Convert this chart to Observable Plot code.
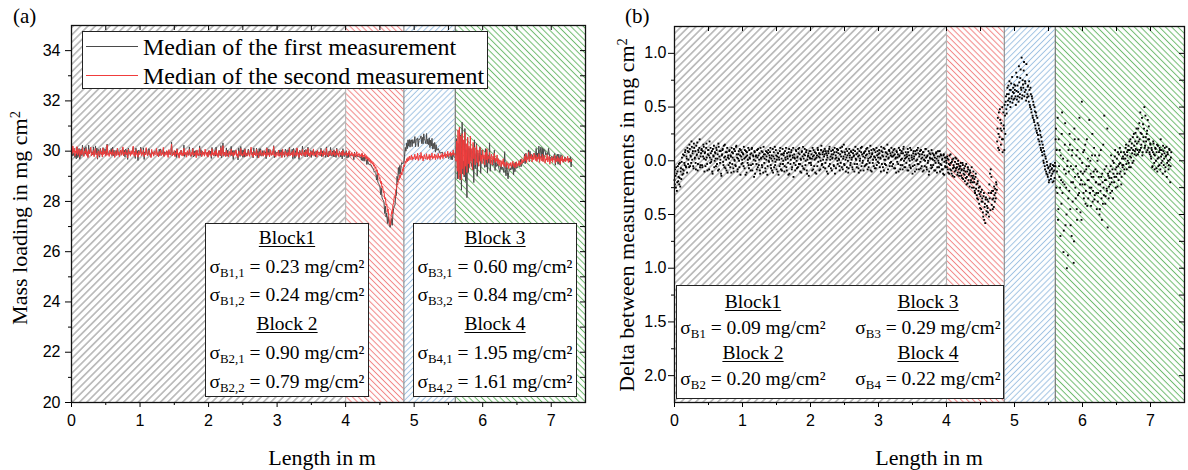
<!DOCTYPE html>
<html><head><meta charset="utf-8">
<script src="https://cdn.jsdelivr.net/npm/d3@7"></script>
<script src="https://cdn.jsdelivr.net/npm/@observablehq/plot@0.6"></script>
<style>
body{margin:0;background:#fff;}
#fig{position:relative;width:1188px;height:470px;overflow:hidden;font-family:"Liberation Serif","Times New Roman",serif;color:#000;}
#fig svg{position:absolute;top:0;}
.t{position:absolute;white-space:nowrap;line-height:1;}
.box{position:absolute;background:#fff;border:1.4px solid #222;box-sizing:border-box;}
.row{position:absolute;text-align:center;font-size:19.5px;white-space:nowrap;line-height:1;}
.h{text-decoration:underline;text-decoration-thickness:1px;text-underline-offset:2px;}
sub{font-size:0.66em;vertical-align:-0.32em;line-height:0;}
sup{font-size:0.66em;vertical-align:0.5em;line-height:0;}
</style></head><body><div id="fig"></div>
<script>
// ---------------- data ----------------
// sampling positions along the length (m): every 0.01 m from 0 to 7.30
const sampleStep = 0.01;
// median mass loading of the second measurement (mg/cm²), one row = 0.2 m
const secondMedian = [
30.05,29.88,30.21,29.95,30.12,29.80,30.02,29.91,30.18,29.84,29.97,30.08,29.76,29.93,30.04,29.86,30.14,29.90,29.79,30.01,
29.92,30.10,29.83,29.98,29.74,30.06,29.89,29.95,30.16,29.81,29.94,29.87,30.03,29.78,29.99,30.11,29.85,29.92,29.72,30.00,
29.90,29.82,30.07,29.88,29.96,29.77,30.13,29.86,29.93,30.02,29.80,29.95,30.25,29.84,29.91,29.79,30.04,29.88,29.97,29.83,
30.09,29.87,29.94,29.75,30.01,29.90,29.82,30.12,29.86,29.98,29.78,29.93,30.05,29.84,29.91,30.17,29.81,29.96,29.88,30.03,
29.85,29.94,29.73,30.08,29.89,29.97,29.80,30.02,29.87,29.92,30.20,29.83,29.95,29.79,30.06,29.88,29.91,29.76,30.00,29.86,
29.93,30.10,29.82,29.96,29.87,30.04,29.78,29.92,29.85,30.14,29.90,29.81,29.97,30.03,29.84,29.89,29.74,30.07,29.88,29.95,
29.80,30.01,29.91,29.86,30.11,29.83,29.94,29.77,29.99,29.88,30.05,29.82,29.93,29.87,30.15,29.79,29.90,29.96,29.84,30.02,
29.89,29.75,30.06,29.92,29.85,29.98,30.28,29.81,29.90,29.86,30.03,29.78,29.94,29.88,30.09,29.83,29.91,29.72,29.97,29.87,
30.04,29.82,29.93,29.80,30.12,29.88,29.85,29.96,29.76,30.02,29.89,29.83,30.07,29.91,29.79,29.95,29.86,30.10,29.81,29.92,
29.87,29.98,29.74,30.05,29.84,29.90,29.82,30.13,29.88,29.93,29.78,30.01,29.86,29.95,29.80,30.08,29.89,29.83,29.97,29.76,
29.92,30.03,29.85,29.88,29.79,30.10,29.87,29.94,29.81,29.99,29.86,30.06,29.83,29.90,29.75,30.02,29.88,29.84,30.14,29.80,
29.93,30.22,29.82,29.89,29.96,29.78,30.04,29.85,29.91,29.77,30.00,29.87,29.83,30.09,29.86,29.94,29.79,29.98,29.84,29.90,
30.05,29.81,29.88,29.74,30.01,29.92,29.85,30.11,29.83,29.89,29.80,29.97,29.86,30.07,29.78,29.93,29.87,29.82,30.03,29.88,
29.79,29.95,30.16,29.84,29.90,29.76,30.00,29.86,29.93,29.81,30.08,29.85,29.91,29.73,29.98,29.87,30.04,29.82,29.89,29.94,
29.80,30.02,29.86,29.92,29.78,30.12,29.84,29.88,29.95,29.77,30.06,29.87,29.83,29.99,29.85,30.19,29.81,29.90,29.76,29.96,
29.88,29.83,30.04,29.79,29.91,29.86,29.97,29.74,30.08,29.85,29.89,29.80,30.01,29.87,29.93,29.78,29.96,29.84,30.10,29.82,
29.90,29.86,29.98,29.77,30.05,29.88,29.83,29.94,29.80,30.13,29.87,29.91,29.75,30.02,29.85,29.92,29.81,30.07,29.89,29.84,
29.96,29.79,30.03,29.88,29.86,30.11,29.82,29.93,29.78,30.00,29.87,29.95,29.84,30.09,29.80,29.90,29.86,29.99,29.76,30.04,
29.89,29.85,29.97,29.81,30.06,29.88,29.92,29.79,30.02,29.86,29.94,29.83,30.12,29.87,29.90,29.77,29.99,29.85,30.05,29.88,
29.82,29.95,29.87,30.03,29.80,29.91,29.86,30.08,29.84,29.93,29.78,30.00,29.88,29.85,29.97,29.81,30.04,29.89,29.83,29.92,
29.86,29.98,29.80,29.92,29.87,30.01,29.79,29.90,29.84,29.95,29.82,29.88,29.76,29.93,29.85,29.81,29.97,29.78,29.89,29.83,
29.90,29.76,29.86,29.80,29.93,29.74,29.84,29.79,29.88,29.71,29.82,29.68,29.77,29.62,29.73,29.58,29.66,29.52,29.60,29.48,
29.55,29.40,29.46,29.31,29.38,29.20,29.26,29.05,29.12,28.90,28.95,28.72,28.80,28.55,28.60,28.35,28.40,28.10,28.15,27.85,
27.90,27.60,27.70,27.40,27.15,27.05,27.25,27.60,27.50,27.85,27.95,28.20,28.15,28.45,28.50,28.70,28.65,28.90,28.85,29.05,
28.95,29.15,29.05,29.30,29.20,29.45,29.38,29.60,29.52,29.70,29.58,29.75,29.62,29.80,29.66,29.72,29.85,29.64,29.78,29.69,
29.74,29.88,29.65,29.79,29.70,29.92,29.63,29.76,29.84,29.68,29.95,29.72,29.80,29.61,29.77,29.86,29.69,29.74,29.90,29.66,
29.78,29.71,29.87,29.64,29.82,29.75,29.93,29.68,29.79,29.73,29.89,29.66,29.84,29.77,29.70,29.91,29.74,29.81,29.67,29.86,
29.76,29.92,29.70,29.85,29.79,29.95,29.73,29.88,29.82,30.00,29.77,29.90,29.84,29.97,29.80,29.93,29.86,30.05,29.83,29.91,
29.85,29.60,30.40,29.20,30.85,28.90,30.95,29.10,30.60,28.85,30.70,29.30,30.45,29.05,30.75,29.40,30.30,29.15,30.55,29.50,
30.20,29.35,30.60,29.60,30.10,29.25,30.35,29.70,30.15,29.45,29.95,30.25,29.55,30.05,29.40,29.90,30.15,29.60,29.85,29.50,
30.05,29.70,29.85,29.45,29.95,29.65,30.10,29.55,29.80,29.70,29.95,29.50,29.75,29.88,29.45,29.80,29.65,29.92,29.55,29.72,
29.60,29.85,29.50,29.70,29.42,29.65,29.55,29.38,29.62,29.48,29.70,29.40,29.56,29.45,29.35,29.58,29.44,29.52,29.30,29.50,
29.42,29.55,29.36,29.48,29.60,29.40,29.52,29.33,29.46,29.58,29.38,29.50,29.44,29.62,29.41,29.55,29.48,29.70,29.52,29.65,
29.58,29.80,29.62,29.90,29.55,29.75,29.68,29.95,29.60,29.82,29.70,29.88,29.57,29.78,29.66,29.92,29.72,29.63,29.85,29.59,
29.76,29.68,29.90,29.55,29.80,29.72,29.62,29.88,29.58,29.75,29.83,29.52,29.70,29.64,29.86,29.57,29.73,29.80,29.48,29.69,
29.62,29.78,29.55,29.72,29.66,29.85,29.52,29.70,29.60,29.80,29.58,29.74,29.65,29.50,29.76,29.62,29.82,29.56,29.68,29.60,
29.75,29.58,29.70,29.64,29.80,29.55,29.72,29.61,29.68,29.57,29.66
];
// delta between measurements, first minus second (mg/cm²), same positions
const delta = [
-0.18,-0.08,-0.25,-0.12,-0.20,-0.05,-0.15,-0.22,-0.02,-0.10,-0.17,0.03,-0.08,-0.12,0.05,-0.04,0.10,-0.06,0.02,0.12,
-0.03,0.08,0.15,-0.05,0.04,0.18,0.01,0.09,-0.07,0.12,0.03,-0.02,0.14,0.06,-0.09,0.10,0.02,0.20,-0.04,0.07,
0.11,-0.06,0.04,0.13,-0.10,0.08,0.01,0.16,-0.03,0.06,0.10,-0.08,0.03,0.12,-0.01,0.09,-0.12,0.05,0.14,0.00,
0.07,-0.05,0.10,0.02,-0.09,0.13,0.04,-0.02,0.09,-0.14,0.06,0.11,-0.04,0.03,0.15,-0.07,0.01,0.08,-0.11,0.05,
0.02,0.10,-0.06,0.04,0.12,-0.03,0.07,-0.10,0.01,0.09,-0.05,0.14,0.03,-0.08,0.06,0.00,0.11,-0.13,0.04,0.08,
-0.02,0.06,0.13,-0.07,0.03,0.09,-0.11,0.05,0.01,-0.04,0.10,0.02,-0.09,0.07,0.12,-0.03,0.04,-0.15,0.08,0.00,
0.05,-0.08,0.03,0.11,-0.04,0.07,-0.12,0.02,0.09,-0.06,0.04,0.13,-0.02,0.06,-0.10,0.01,0.08,-0.05,0.10,-0.01,
0.03,0.12,-0.07,0.05,0.00,-0.11,0.08,0.02,-0.04,0.10,-0.08,0.04,0.07,-0.13,0.01,0.09,-0.03,0.06,-0.09,0.11,
0.00,0.07,-0.05,0.03,0.12,-0.09,0.04,-0.02,0.08,-0.12,0.05,0.01,0.10,-0.06,0.03,-0.15,0.06,0.02,-0.04,0.09,
-0.07,0.04,0.11,-0.03,0.06,-0.10,0.01,0.08,-0.05,0.13,0.02,-0.08,0.05,0.00,0.10,-0.12,0.04,0.07,-0.02,0.03,
0.09,-0.04,0.02,0.12,-0.08,0.05,0.01,-0.11,0.07,0.03,-0.05,0.10,0.04,-0.09,0.06,0.00,0.14,-0.03,0.08,-0.06,
0.04,0.11,-0.02,0.07,-0.10,0.03,0.09,-0.05,0.13,0.01,-0.07,0.06,0.02,0.10,-0.04,0.08,-0.12,0.05,0.03,0.11,
-0.03,0.07,0.01,-0.09,0.12,0.04,-0.06,0.08,0.02,0.15,-0.04,0.06,-0.10,0.03,0.09,0.00,-0.07,0.11,0.05,-0.02,
0.08,0.03,-0.08,0.10,0.05,-0.03,0.13,0.01,-0.06,0.07,0.04,-0.11,0.09,0.02,0.12,-0.05,0.06,0.00,-0.09,0.08,
0.03,-0.04,0.11,0.06,-0.08,0.02,0.09,-0.02,0.14,0.04,-0.10,0.07,0.01,-0.05,0.10,0.03,-0.07,0.12,0.05,-0.01,
0.06,0.10,-0.06,0.02,0.13,-0.03,0.08,0.04,-0.09,0.11,0.01,-0.04,0.07,0.15,-0.08,0.03,0.09,-0.02,0.05,0.12,
-0.05,0.04,0.10,-0.07,0.06,0.02,-0.11,0.08,0.03,-0.03,0.12,0.05,-0.08,0.01,0.09,-0.04,0.07,0.13,-0.06,0.02,
0.08,-0.02,0.04,0.11,-0.09,0.05,0.00,-0.06,0.10,0.03,-0.12,0.07,0.02,-0.04,0.09,0.06,-0.08,0.01,0.12,-0.03,
0.04,0.09,-0.07,0.02,0.06,-0.10,0.08,0.01,-0.05,0.11,0.03,-0.08,0.05,0.00,-0.13,0.07,0.02,-0.04,0.10,-0.06,
0.01,0.06,-0.09,0.03,-0.02,0.08,-0.11,0.04,0.00,-0.06,0.09,-0.03,0.05,-0.08,0.02,-0.12,0.06,-0.01,-0.05,0.03,
-0.02,0.04,-0.08,0.01,-0.12,-0.04,0.06,-0.09,-0.01,-0.14,0.02,-0.06,-0.10,0.03,-0.07,-0.03,-0.13,0.00,-0.08,-0.05,
-0.11,-0.02,-0.09,-0.16,-0.04,-0.12,-0.07,-0.19,-0.10,-0.03,-0.15,-0.21,-0.08,-0.13,-0.24,-0.11,-0.18,-0.06,-0.20,-0.14,
-0.25,-0.17,-0.30,-0.12,-0.22,-0.35,-0.19,-0.28,-0.40,-0.24,-0.33,-0.45,-0.27,-0.38,-0.52,-0.30,-0.43,-0.58,-0.34,-0.47,
-0.36,-0.48,-0.30,-0.22,-0.12,-0.08,-0.15,-0.28,-0.45,-0.35,-0.24,-0.38,-0.30,-0.20,-0.27,0.30,0.12,0.45,0.22,0.38,
0.15,0.28,0.50,0.20,0.33,0.10,0.42,0.55,0.48,0.62,0.52,0.70,0.58,0.66,0.50,0.72,0.60,0.54,0.68,0.63,
0.58,0.70,0.52,0.65,0.78,0.60,0.55,0.73,0.62,0.85,0.66,0.58,0.75,0.68,0.92,0.64,0.72,0.56,0.80,0.62,
0.70,0.55,0.66,0.50,0.62,0.45,0.58,0.40,0.52,0.36,0.46,0.30,0.42,0.26,0.35,0.20,0.30,0.15,0.24,0.10,
0.18,0.05,0.12,-0.02,0.06,-0.08,0.02,-0.12,-0.04,-0.15,-0.06,-0.18,-0.09,-0.03,-0.14,-0.07,-0.20,-0.10,-0.05,-0.16,
-0.05,0.30,0.10,-0.30,-0.55,0.20,-0.15,-0.25,0.05,-0.40,0.45,-0.20,-0.85,-0.08,0.15,-0.60,-0.25,-1.00,0.00,-0.35,
-0.10,0.25,-0.45,-0.05,-0.70,0.10,-0.20,-0.95,0.30,-0.15,-0.35,0.05,-0.55,-0.12,0.20,-0.30,0.02,-0.48,-0.18,0.55,
-0.22,0.08,-0.35,-0.10,0.15,-0.28,-0.05,-0.42,0.02,-0.18,0.38,-0.30,-0.12,-0.25,0.05,-0.38,-0.15,0.12,-0.32,-0.08,
-0.20,-0.45,0.00,-0.30,-0.15,-0.50,-0.22,0.10,-0.35,-0.12,-0.40,-0.25,0.42,-0.18,-0.33,-0.05,-0.28,-0.62,-0.14,-0.24,
-0.10,-0.30,0.05,-0.20,-0.08,-0.35,-0.02,-0.15,0.10,-0.25,-0.06,-0.12,0.08,-0.18,-0.03,0.12,-0.10,-0.22,0.02,-0.06,
-0.04,0.08,-0.12,0.02,0.15,-0.08,0.05,0.10,-0.02,0.18,0.04,-0.06,0.12,0.07,0.22,0.00,0.14,0.09,0.26,0.05,
0.16,0.10,0.30,0.08,0.20,0.45,0.12,0.25,0.05,0.34,0.18,0.50,0.14,0.22,0.08,0.28,0.38,0.12,0.20,0.06,
0.15,0.02,0.10,-0.05,0.18,0.06,-0.08,0.12,0.00,0.08,-0.10,0.14,0.03,-0.04,0.10,0.20,-0.02,0.06,-0.12,0.09,
0.02,0.12,-0.06,0.05,-0.15,0.08,0.00,-0.04,0.10,-0.20,0.03
];
// further delta readings, taken half a step (0.005 m) after each position above
const deltaHalfStep = [
-0.22,-0.14,-0.06,-0.28,-0.10,-0.19,-0.03,-0.16,-0.24,-0.07,-0.01,-0.13,0.06,-0.09,-0.02,0.08,-0.05,0.04,-0.11,0.09,
0.01,-0.06,0.11,0.05,-0.02,0.13,0.07,-0.05,0.16,0.02,0.09,-0.08,0.05,0.17,-0.03,0.08,0.12,-0.06,0.04,0.10,
-0.04,0.09,0.15,0.02,0.07,-0.05,0.12,0.03,-0.09,0.10,0.05,0.18,-0.02,0.07,0.01,-0.10,0.11,0.04,-0.06,0.08,
0.02,0.12,-0.03,0.06,0.16,-0.08,0.09,0.01,-0.12,0.05,0.10,-0.01,0.14,-0.06,0.04,0.08,-0.09,0.12,0.03,-0.04,
0.09,-0.02,0.05,-0.11,0.08,0.03,-0.07,0.11,0.00,-0.04,0.13,0.06,-0.10,0.02,0.09,-0.06,0.05,0.10,-0.03,0.01,
0.07,-0.05,0.02,0.10,-0.13,0.04,0.08,-0.02,0.12,-0.07,0.03,0.06,-0.04,0.11,-0.09,0.05,0.01,0.09,-0.12,0.04,
-0.03,0.10,-0.06,0.05,0.01,-0.09,0.12,0.03,-0.04,0.08,-0.11,0.06,0.02,-0.07,0.09,0.04,-0.13,0.07,0.00,0.05,
0.08,-0.04,0.02,-0.09,0.11,0.04,-0.06,0.13,-0.01,0.05,0.01,-0.10,0.07,0.03,-0.05,0.12,-0.08,0.02,0.06,-0.03,
0.05,-0.10,0.09,0.01,-0.06,0.07,0.02,-0.13,0.11,0.04,-0.03,0.08,-0.08,0.05,0.12,-0.02,0.03,-0.09,0.10,0.00,
0.03,-0.06,0.07,0.12,-0.03,0.02,-0.11,0.09,0.04,-0.07,0.06,0.11,-0.04,0.08,-0.09,0.01,0.05,-0.14,0.09,0.02,
-0.02,0.06,-0.09,0.04,0.10,-0.05,0.08,0.02,-0.12,0.05,0.12,-0.01,0.07,0.03,-0.08,0.10,-0.04,0.06,0.01,0.09,
0.06,-0.07,0.09,0.01,0.05,-0.12,0.07,0.11,-0.03,0.04,0.09,-0.09,0.03,0.06,-0.05,0.12,0.02,-0.07,0.08,0.00,
0.10,0.02,-0.05,0.06,-0.02,0.09,0.13,-0.08,0.04,-0.03,0.08,0.01,0.11,-0.06,0.05,-0.11,0.07,0.03,-0.04,0.09,
0.01,-0.06,0.07,0.04,-0.10,0.09,0.02,0.06,-0.03,0.11,-0.07,0.05,0.00,-0.09,0.08,0.13,-0.02,0.04,0.07,-0.05,
0.09,0.05,-0.03,0.12,0.00,-0.06,0.07,0.03,-0.09,0.10,0.06,-0.02,0.11,0.04,-0.07,0.08,0.01,-0.04,0.09,0.03,
-0.02,0.07,0.03,-0.10,0.09,0.05,-0.06,0.12,0.01,-0.03,0.08,0.04,-0.11,0.06,0.02,0.10,-0.05,0.07,-0.01,0.04,
0.08,-0.03,0.05,0.11,-0.07,0.03,0.09,-0.01,0.06,-0.10,0.04,0.10,-0.04,0.07,0.02,-0.08,0.11,0.00,0.05,-0.06,
0.03,0.06,-0.09,0.08,0.02,-0.04,0.12,-0.07,0.05,0.01,-0.05,0.09,0.04,-0.10,0.06,0.00,0.10,-0.03,0.07,-0.08,
0.06,-0.01,0.10,-0.05,0.03,0.08,-0.09,0.05,0.00,0.11,-0.06,0.04,-0.02,0.09,-0.10,0.03,0.06,-0.07,0.02,0.07,
-0.04,0.05,0.00,-0.09,0.07,0.02,-0.06,0.09,-0.02,0.04,-0.10,0.06,-0.04,0.01,-0.08,0.05,-0.13,0.03,-0.06,0.00,
-0.06,0.02,-0.11,-0.03,0.05,-0.08,-0.02,-0.12,0.01,-0.07,-0.04,-0.15,-0.01,-0.09,0.02,-0.06,-0.11,-0.03,-0.14,-0.07,
-0.05,-0.14,-0.08,-0.02,-0.17,-0.09,-0.13,-0.05,-0.16,-0.22,-0.10,-0.06,-0.18,-0.12,-0.09,-0.20,-0.14,-0.25,-0.16,-0.10,
-0.20,-0.28,-0.15,-0.26,-0.32,-0.21,-0.36,-0.25,-0.31,-0.44,-0.29,-0.38,-0.35,-0.48,-0.33,-0.55,-0.40,-0.36,-0.50,-0.42,
-0.44,-0.38,-0.52,-0.35,-0.46,-0.30,-0.41,-0.36,-0.28,-0.43,-0.32,-0.26,-0.35,-0.22,0.18,0.40,0.25,0.10,0.48,0.30,
0.35,0.20,0.08,0.45,0.30,0.52,0.25,0.60,0.44,0.68,0.56,0.62,0.74,0.55,0.66,0.58,0.78,0.64,0.57,0.71,
0.66,0.60,0.82,0.57,0.70,0.64,0.88,0.59,0.77,0.68,0.96,0.61,0.71,0.84,0.60,0.74,0.66,0.90,0.59,0.69,
0.60,0.74,0.52,0.68,0.48,0.60,0.42,0.55,0.38,0.50,0.33,0.45,0.28,0.40,0.24,0.33,0.18,0.28,0.12,0.22,
0.08,0.15,0.00,0.09,-0.05,0.04,-0.10,-0.01,-0.13,-0.07,-0.20,-0.11,-0.05,-0.17,-0.08,-0.12,-0.04,-0.19,-0.09,-0.02,
0.20,-0.25,-0.10,0.40,-0.45,-0.05,0.10,-0.70,-0.18,0.25,-0.30,0.02,-0.65,-0.22,0.35,-0.12,-0.50,-0.05,-0.88,0.10,
-0.28,0.15,-0.60,-0.20,0.05,-0.38,-0.08,-0.75,0.20,-0.25,-0.05,-0.45,0.10,-0.32,-0.15,0.40,-0.22,-0.10,-0.55,-0.02,
-0.12,-0.30,0.10,-0.22,-0.40,-0.08,0.20,-0.18,-0.35,-0.05,-0.25,0.00,-0.42,-0.15,0.25,-0.28,-0.10,-0.36,0.05,-0.20,
-0.30,-0.10,-0.38,-0.22,0.05,-0.45,-0.28,-0.15,-0.55,-0.20,0.15,-0.32,-0.08,-0.40,-0.18,-0.26,0.30,-0.12,-0.35,-0.16,
-0.22,-0.05,-0.16,-0.28,0.00,-0.12,-0.20,0.04,-0.08,-0.15,0.02,-0.24,-0.05,0.06,-0.12,-0.02,0.08,-0.15,-0.04,0.04,
0.02,-0.08,0.06,0.12,-0.03,0.08,0.00,0.14,-0.06,0.10,0.20,0.03,0.16,-0.02,0.10,0.25,0.06,0.18,0.11,0.30,
0.22,0.06,0.18,0.35,0.10,0.26,0.15,0.40,0.08,0.22,0.30,0.12,0.42,0.18,0.25,0.10,0.20,0.32,0.08,0.16,
0.04,0.12,-0.06,0.08,0.16,-0.02,0.05,0.11,-0.07,0.15,0.02,-0.05,0.08,0.12,-0.08,0.04,0.10,0.00,0.14,-0.04,
0.07,-0.10,0.04,0.13,-0.02,0.06,-0.08,0.11,0.01,-0.05,0.08
];
// block boundaries along the length (m)
const blockEdges = [0, 4.0, 4.85, 5.6, 7.5];
// tick values
const xMajor = [0, 1, 2, 3, 4, 5, 6, 7];
const xMinor = [0.5, 1.5, 2.5, 3.5, 4.5, 5.5, 6.5];
const yMajorA = [20, 22, 24, 26, 28, 30, 32, 34];
const yMinorA = [21, 23, 25, 27, 29, 31, 33];
const yMajorB = [-2, -1.5, -1, -0.5, 0, 0.5, 1];
const yMinorB = [-1.75, -1.25, -0.75, -0.25, 0.25, 0.75];
// texts
const seriesNames = ["Median of the first measurement", "Median of the second measurement"];
const sigmaA = [
  ["Block1", ["B1,1", "0.23"], ["B1,2", "0.24"]],
  ["Block 2", ["B2,1", "0.90"], ["B2,2", "0.79"]],
  ["Block 3", ["B3,1", "0.60"], ["B3,2", "0.84"]],
  ["Block 4", ["B4,1", "1.95"], ["B4,2", "1.61"]]
];
const sigmaB = [["Block1", "B1", "0.09"], ["Block 2", "B2", "0.20"], ["Block 3", "B3", "0.29"], ["Block 4", "B4", "0.22"]];

// ---------------- derived tables ----------------
const rows = secondMedian.map((s, i) => ({
  length: +(i * sampleStep).toFixed(2),
  second: s,
  delta: delta[i],
  first: +(s + delta[i]).toFixed(2)
}));
const deltaPoints = [
  ...rows.map(r => ({length: r.length, delta: r.delta})),
  ...deltaHalfStep.map((d, i) => ({length: +(i * sampleStep + sampleStep / 2).toFixed(3), delta: d}))
];

// ---------------- styles ----------------
const hatchStyles = [
  {color: "#8a8a8a", angle: 45, gap: 5.2},
  {color: "#f28585", angle: -45, gap: 4.2},
  {color: "#9fc2e2", angle: 45, gap: 4.2},
  {color: "#6fbb6f", angle: -45, gap: 4.4}
];
const edgeColors = ["#b5b5b5", "#8a8a8a", "#6e6e6e"];
const firstColor = "#4a4a4a", secondColor = "#f03c3c";

const fig = document.getElementById("fig");
const NS = "http://www.w3.org/2000/svg";

function addHatch(svg, id) {
  const defs = document.createElementNS(NS, "defs");
  hatchStyles.forEach((h, i) => {
    const p = document.createElementNS(NS, "pattern");
    p.setAttribute("id", `${id}-h${i}`);
    p.setAttribute("patternUnits", "userSpaceOnUse");
    p.setAttribute("width", h.gap);
    p.setAttribute("height", h.gap);
    p.setAttribute("patternTransform", `rotate(${h.angle})`);
    const r = document.createElementNS(NS, "rect");
    r.setAttribute("width", h.gap); r.setAttribute("height", h.gap); r.setAttribute("fill", "#fff");
    const l = document.createElementNS(NS, "line");
    l.setAttribute("x1", h.gap / 2); l.setAttribute("x2", h.gap / 2);
    l.setAttribute("y1", 0); l.setAttribute("y2", h.gap);
    l.setAttribute("stroke", h.color); l.setAttribute("stroke-width", 1);
    p.append(r, l);
    defs.append(p);
  });
  svg.insertBefore(defs, svg.firstChild);
}

function panel({id, left, yDomain, yMajor, yMinor, yFmt, mL, mR, mT, mB, padY, dataMarks}) {
  const W = 594, H = 470;
  const pw = W - mL - mR, ph = H - mT - mB;
  const hatch = blockEdges.slice(0, -1).map((x1, i) =>
    Plot.rect([{x1, x2: blockEdges[i + 1]}], {x1: "x1", x2: "x2", fill: `url(#${id}-h${i})`}));
  const edges = blockEdges.slice(1, -1).map((e, i) => Plot.ruleX([e], {stroke: edgeColors[i], strokeWidth: 1.1}));
  const svg = Plot.plot({
    width: W, height: H, marginLeft: mL, marginRight: mR, marginTop: mT, marginBottom: mB,
    x: {domain: [0, 7.5]},
    y: {domain: yDomain},
    style: {fontFamily: '"Liberation Sans", Arial, sans-serif', fontSize: "16px", color: "#000", background: "transparent", overflow: "visible"},
    marks: [
      ...hatch,
      ...edges,
      ...dataMarks,
      Plot.tickX([...xMajor, ...xMinor], {x: d => d, insetBottom: ph - 5, stroke: "#000"}),
      Plot.tickY([...yMajor, ...yMinor], {y: d => d, insetLeft: pw - 5, stroke: "#000"}),
      Plot.axisX(xMajor, {tickSize: 5, tickPadding: 7, label: null, tickFormat: d => String(d), fontSize: 16}),
      Plot.axisX(xMinor, {tickSize: 3, label: null, tickFormat: () => ""}),
      Plot.axisY(yMajor, {tickSize: 6, tickPadding: padY, label: null, tickFormat: yFmt, fontSize: 16}),
      Plot.axisY(yMinor, {tickSize: 3, label: null, tickFormat: () => ""}),
      Plot.frame({stroke: "#111", strokeWidth: 1.3})
    ]
  });
  svg.style.left = left + "px";
  addHatch(svg, id);
  fig.append(svg);
}

panel({
  id: "pa", left: 0, yDomain: [20, 35], yMajor: yMajorA, yMinor: yMinorA, yFmt: d => String(d),
  mL: 71, mR: 9, mT: 25, mB: 68, padY: 5,
  dataMarks: [
    Plot.line(rows, {x: "length", y: "first", stroke: firstColor, strokeWidth: 1}),
    Plot.line(rows, {x: "length", y: "second", stroke: secondColor, strokeWidth: 1})
  ]
});
panel({
  id: "pb", left: 594, yDomain: [-2.25, 1.25], yMajor: yMajorB, yMinor: yMinorB, yFmt: d => Math.abs(d).toFixed(1),
  mL: 80, mR: 4, mT: 26, mB: 68, padY: 2,
  dataMarks: [
    Plot.dot(deltaPoints, {x: "length", y: "delta", r: 1.05, symbol: "square", fill: "#000", stroke: null})
  ]
});

// ---------------- annotations ----------------
function div(cls, css, html, parent = fig) {
  const d = document.createElement("div");
  d.className = cls;
  Object.assign(d.style, css);
  if (html != null) d.innerHTML = html;
  parent.append(d);
  return d;
}
div("t", {left: "13px", top: "6px", fontSize: "21px"}, "(a)");
div("t", {left: "625px", top: "6px", fontSize: "21px"}, "(b)");
div("t", {left: "322px", top: "447px", fontSize: "22px", transform: "translateX(-50%)"}, "Length in m");
div("t", {left: "929px", top: "447px", fontSize: "22px", transform: "translateX(-50%)"}, "Length in m");
div("t", {left: "20px", top: "218px", fontSize: "22px", transform: "translate(-50%,-50%) rotate(-90deg)"}, "Mass loading in mg cm<sup>2</sup>");
div("t", {left: "627px", top: "215px", fontSize: "22px", transform: "translate(-50%,-50%) rotate(-90deg)"}, "Delta between measurements in mg cm<sup>2</sup>");

// legend
const leg = div("box", {left: "82px", top: "31px", width: "406px", height: "58px"});
[firstColor, secondColor].forEach((c, i) => {
  const cy = 15 + i * 29;
  div("", {position: "absolute", left: "3px", top: (cy - 0.6) + "px", width: "52px", height: "0", borderTop: `1.3px solid ${c}`}, null, leg);
  div("t", {left: "60px", top: (cy - 12) + "px", fontSize: "24px"}, seriesNames[i], leg);
});

// sigma boxes, panel (a)
function sig(sub, val) { return `σ<sub>${sub}</sub> = ${val} mg/cm²`; }
[[0, 1, 205], [2, 3, 413]].forEach(([b1, b2, left]) => {
  const box = div("box", {left: left + "px", top: "223px", width: "164px", height: "174px"});
  const lines = [
    `<span class="h">${sigmaA[b1][0]}</span>`, sig(...sigmaA[b1][1]), sig(...sigmaA[b1][2]),
    `<span class="h">${sigmaA[b2][0]}</span>`, sig(...sigmaA[b2][1]), sig(...sigmaA[b2][2])
  ];
  lines.forEach((h, i) => div("row", {left: "-4px", width: "170px", top: (14 + i * 28.7 - 10) + "px"}, h, box));
});
// sigma box, panel (b)
const boxB = div("box", {left: "676px", top: "285px", width: "328px", height: "114px"});
sigmaB.forEach(([name, sub, val], k) => {
  const col = k < 2 ? 0 : 1, r = k % 2;
  const cx = col === 0 ? 76 : 251;
  div("row", {left: (cx - 85) + "px", width: "170px", top: (16 + r * 51 - 10) + "px"}, `<span class="h">${name}</span>`, boxB);
  div("row", {left: (cx - 85) + "px", width: "170px", top: (41.5 + r * 51 - 10) + "px"}, sig(sub, val), boxB);
});
</script></body></html>
